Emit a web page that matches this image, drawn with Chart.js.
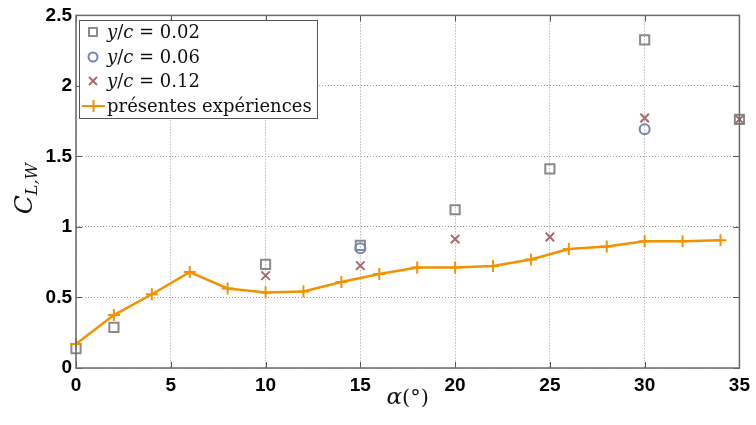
<!DOCTYPE html>
<html>
<head>
<meta charset="utf-8">
<script src="https://cdn.jsdelivr.net/npm/chart.js@4"></script>
<style>
  html, body { margin: 0; padding: 0; background: #fff; }
  #wrap { width: 756px; height: 425px; position: relative; }
</style>
</head>
<body>
<div id="wrap"><canvas id="clChart" width="756" height="425"></canvas></div>
<script>
// --- data ---
const alphaExp = [0, 2, 4, 6, 8, 10, 12, 14, 16, 18, 20, 22, 24, 26, 28, 30, 32, 34];
const clExp = [0.17, 0.375, 0.523, 0.68, 0.564, 0.535, 0.542, 0.61, 0.667, 0.712, 0.712, 0.723, 0.769, 0.844, 0.861, 0.898, 0.898, 0.905];

const alpha002 = [0, 2, 10, 15, 20, 25, 30, 35];
const cl002 = [0.137, 0.288, 0.735, 0.87, 1.122, 1.412, 2.327, 1.763];

const alpha006 = [15, 30];
const cl006 = [0.849, 1.692];

const alpha012 = [10, 15, 20, 25, 30, 35];
const cl012 = [0.655, 0.726, 0.914, 0.929, 1.773, 1.763];

const yTicks = [0, 0.5, 1, 1.5, 2, 2.5];
const xTicks = [0, 5, 10, 15, 20, 25, 30, 35];
const legendValues = ["0.02", "0.06", "0.12"];
const legendExp = "présentes expériences";

// colours
const cGrey = "#8a8a8a";
const cBlue = "#6f86bd";
const cRed = "#a86a6a";
const cOrange = "#f39200";

function pts(xs, ys) {
    return xs.map((x, i) => ({ x: x, y: ys[i] }));
}

// small helper: draw a run of text pieces with different fonts
function drawRun(ctx, parts, x, y) {
    parts.forEach(p => {
        ctx.font = p.font;
        ctx.fillText(p.t, x, y + (p.dy || 0));
        x += ctx.measureText(p.t).width;
    });
    return x;
}
function runWidth(ctx, parts) {
    let w = 0;
    parts.forEach(p => { ctx.font = p.font; w += ctx.measureText(p.t).width; });
    return w;
}

// --- frame, inner ticks, axis titles, legend ---
const decorPlugin = {
    id: "decor",
    afterDraw(chart) {
        const ctx = chart.ctx;
        const a = chart.chartArea;
        const xs = chart.scales.x, ys = chart.scales.y;
        ctx.save();

        // inner tick marks
        ctx.strokeStyle = "#555";
        ctx.lineWidth = 1;
        ctx.beginPath();
        xTicks.forEach(v => {
            const px = Math.round(xs.getPixelForValue(v)) + 0.5;
            ctx.moveTo(px, a.bottom); ctx.lineTo(px, a.bottom - 6);
            ctx.moveTo(px, a.top); ctx.lineTo(px, a.top + 6);
        });
        yTicks.forEach(v => {
            const py = Math.round(ys.getPixelForValue(v)) + 0.5;
            ctx.moveTo(a.left, py); ctx.lineTo(a.left + 6, py);
            ctx.moveTo(a.right, py); ctx.lineTo(a.right - 6, py);
        });
        ctx.stroke();

        // frame
        ctx.strokeStyle = "#6a6a6a";
        ctx.lineWidth = 1.5;
        ctx.strokeRect(a.left, a.top, a.right - a.left, a.bottom - a.top);

        // y title C_{L,W}
        ctx.fillStyle = "#111";
        ctx.textBaseline = "alphabetic";
        const yParts = [
            { t: "C", font: "italic 25px 'DejaVu Serif'" },
            { t: "L,W", font: "italic 16px 'DejaVu Serif'", dy: 5 }
        ];
        ctx.save();
        ctx.translate(32, (a.top + a.bottom) / 2 - 3);
        ctx.rotate(-Math.PI / 2);
        drawRun(ctx, yParts, -runWidth(ctx, yParts) / 2, 0);
        ctx.restore();

        // x title alpha(°)
        const xParts = [
            { t: "α", font: "italic 23px 'DejaVu Serif'" },
            { t: "(°)", font: "21px 'DejaVu Serif'" }
        ];
        drawRun(ctx, xParts, (a.left + a.right) / 2 - runWidth(ctx, xParts) / 2, 404);

        // legend box
        const bx = 79, by = 20, bw = 238, bh = 98;
        ctx.fillStyle = "#fff";
        ctx.fillRect(bx, by, bw, bh);
        ctx.strokeStyle = "#555";
        ctx.lineWidth = 1;
        ctx.strokeRect(bx + 0.5, by + 0.5, bw, bh);

        const rowY = [32, 57, 81, 106];
        const mx = 93;
        ctx.lineWidth = 2;
        // square
        ctx.strokeStyle = cGrey;
        ctx.strokeRect(mx - 4, rowY[0] - 4, 8, 8);
        // circle
        ctx.strokeStyle = cBlue;
        ctx.beginPath(); ctx.arc(mx, rowY[1], 4.5, 0, Math.PI * 2); ctx.stroke();
        // cross
        ctx.strokeStyle = cRed;
        ctx.beginPath();
        ctx.moveTo(mx - 4, rowY[2] - 4); ctx.lineTo(mx + 4, rowY[2] + 4);
        ctx.moveTo(mx + 4, rowY[2] - 4); ctx.lineTo(mx - 4, rowY[2] + 4);
        ctx.stroke();
        // line + plus
        ctx.strokeStyle = cOrange;
        ctx.beginPath();
        ctx.moveTo(82, rowY[3]); ctx.lineTo(105, rowY[3]);
        ctx.moveTo(mx + 0.5, rowY[3] - 6); ctx.lineTo(mx + 0.5, rowY[3] + 6);
        ctx.stroke();

        ctx.fillStyle = "#111";
        ctx.textBaseline = "middle";
        const it = "italic 18px 'DejaVu Serif'";
        const up = "18px 'DejaVu Serif'";
        legendValues.forEach((v, i) => {
            drawRun(ctx, [
                { t: "y", font: it },
                { t: "/", font: up },
                { t: "c", font: it },
                { t: " = " + v, font: up }
            ], 107, rowY[i] + 1);
        });
        // squeeze the long label into the box width
        ctx.font = up;
        const w = ctx.measureText(legendExp).width;
        const sx = Math.min(1, 205 / w);
        ctx.save();
        ctx.translate(107, rowY[3] + 1);
        ctx.scale(sx, 1);
        ctx.fillText(legendExp, 0, 0);
        ctx.restore();

        ctx.restore();
    }
};

const ctx = document.getElementById("clChart").getContext("2d");

const tickFont = { family: "'Liberation Sans'", size: 19, weight: "bold" };

new Chart(ctx, {
    type: "line",
    data: {
        datasets: [
            {
                label: legendExp,
                data: pts(alphaExp, clExp),
                borderColor: cOrange,
                borderWidth: 2.5,
                pointStyle: "cross",
                pointRadius: 6,
                pointBorderWidth: 2,
                pointBorderColor: cOrange,
                tension: 0,
                clip: false
            },
            {
                label: "y/c = 0.12",
                data: pts(alpha012, cl012),
                showLine: false,
                pointStyle: "crossRot",
                pointRadius: 6,
                pointBorderWidth: 2,
                pointBorderColor: cRed,
                clip: false
            },
            {
                label: "y/c = 0.06",
                data: pts(alpha006, cl006),
                showLine: false,
                pointStyle: "circle",
                pointRadius: 5,
                pointBorderWidth: 2,
                pointBorderColor: cBlue,
                pointBackgroundColor: "rgba(0,0,0,0)",
                clip: false
            },
            {
                label: "y/c = 0.02",
                data: pts(alpha002, cl002),
                showLine: false,
                pointStyle: "rect",
                pointRadius: 6.5,
                pointBorderWidth: 2,
                pointBorderColor: cGrey,
                pointBackgroundColor: "rgba(0,0,0,0)",
                clip: false
            }
        ]
    },
    options: {
        responsive: false,
        animation: false,
        devicePixelRatio: 1,
        layout: { padding: { top: 14, right: 14, left: 0, bottom: 0 } },
        plugins: { legend: { display: false }, tooltip: { enabled: false } },
        scales: {
            x: {
                type: "linear",
                min: 0, max: 35,
                afterFit: s => { s.height = 57; },
                afterBuildTicks: s => { s.ticks = xTicks.map(v => ({ value: v })); },
                ticks: { font: tickFont, color: "#000", padding: 6, maxRotation: 0, callback: v => String(v) },
                grid: { color: "#9a9a9a", lineWidth: 1, drawTicks: false },
                border: { display: false, dash: [1, 2] }
            },
            y: {
                min: 0, max: 2.5,
                afterFit: s => { s.width = 76; },
                afterBuildTicks: s => { s.ticks = yTicks.map(v => ({ value: v })); },
                ticks: { font: tickFont, color: "#000", padding: 4, callback: v => String(v) },
                grid: { color: "#9a9a9a", lineWidth: 1, drawTicks: false },
                border: { display: false, dash: [1, 2] }
            }
        }
    },
    plugins: [decorPlugin]
});
</script>
</body>
</html>
